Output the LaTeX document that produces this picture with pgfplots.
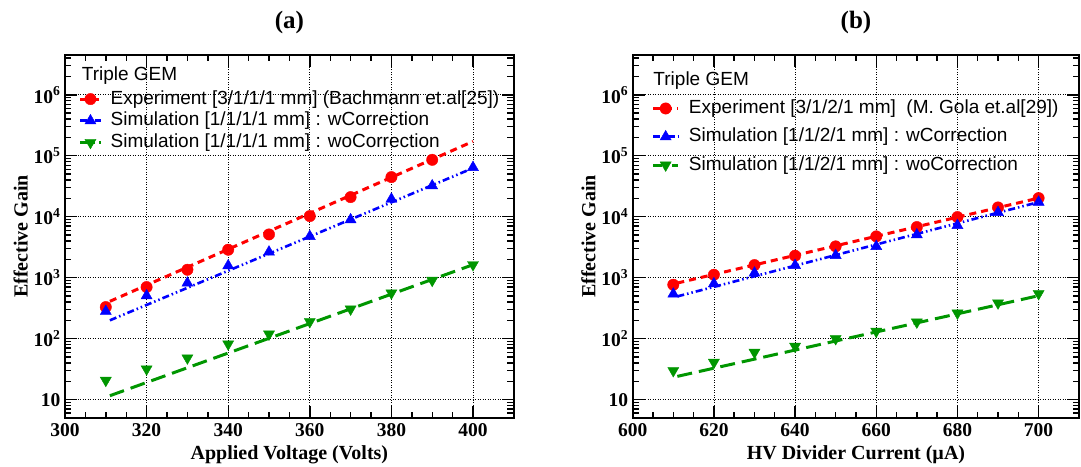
\documentclass[border=0pt]{standalone}
\usepackage{fontspec}
\setmainfont{Liberation Serif}
\newfontfamily\arial{Liberation Sans}
\usepackage{pgfplots}
\usepackage{pgfplotstable}
\pgfplotsset{compat=1.18}
\definecolor{rootred}{RGB}{255,0,0}
\definecolor{rootblue}{RGB}{0,0,255}
\definecolor{rootgreen}{RGB}{0,150,0}

\pgfplotstableread{
x y
310 330
320 703
330 1352
340 2877
350 5130
360 10250
370 21000
380 44700
390 85900
}\expA
\pgfplotstableread{
x y
310 281
320 507
330 818
340 1574
350 2640
360 4760
370 8940
380 19500
390 32200
400 64400
}\simwA
\pgfplotstableread{
x y
310 20.7
320 31.8
330 48.2
340 81.8
350 119
360 190
370 306
380 561
390 904
400 1634
}\simwoA
\pgfplotstableread{
x y
610 767
620 1119
630 1613
640 2296
650 3267
660 4763
670 6776
680 9886
690 14230
700 20230
}\expB
\pgfplotstableread{
x y
610 540
620 798
630 1193
640 1593
650 2325
660 3267
670 5070
680 7210
690 11780
700 17380
}\simwB
\pgfplotstableread{
x y
610 29.9
620 40.9
630 59.7
640 74.9
650 100
660 132
670 187
680 263
690 385
700 547
}\simwoB

\pgfplotsset{
 expM/.style={only marks, rootred, mark=*, mark size=5.7pt, mark options={solid, line width=0.4pt}},
 expL/.style={rootred, line width=3pt, dash pattern=on 7pt off 5pt, no marks},
 wM/.style={only marks, rootblue, mark=triangle*, mark size=6.4pt, mark options={solid, line width=0.4pt}},
 wL/.style={rootblue, line width=2.6pt, dash pattern=on 7pt off 3pt on 1.5pt off 3pt on 1.5pt off 3pt, no marks},
 woM/.style={only marks, rootgreen, mark=triangle*, mark size=6.4pt, mark options={solid, line width=0.4pt, rotate=180}},
 woL/.style={rootgreen, line width=3pt, dash pattern=on 15pt off 7pt, no marks},
 expLeg/.style={rootred, line width=3pt, dash pattern=on 7pt off 5pt, mark=*, mark size=5.7pt, mark options={solid, line width=0.4pt}},
 wLeg/.style={rootblue, line width=2.6pt, dash pattern=on 7pt off 3pt on 1.5pt off 3pt, mark=triangle*, mark size=6.4pt, mark options={solid, line width=0.4pt}},
 woLeg/.style={rootgreen, line width=3pt, dash pattern=on 9pt off 4pt on 2pt off 4pt, mark=triangle*, mark size=6.4pt, mark options={solid, line width=0.4pt, rotate=180}},
}

\begin{document}
\begin{tikzpicture}
\path[use as bounding box] (0pt,0pt) rectangle (1081pt,466pt);

\begin{axis}[ymode=log, at={(65pt,48pt)}, anchor=south west,
  scale only axis, width=448.8pt, height=363pt,
  ymin=5, ymax=4.5e6,
  ytick={10,100,1000,10000,100000,1000000},
  yticklabels={10,10\textsuperscript{2},10\textsuperscript{3},10\textsuperscript{4},10\textsuperscript{5},10\textsuperscript{6}},
  minor ytick={5,6,7,8,9,20,30,40,50,60,70,80,90,200,300,400,500,600,700,800,900,2000,3000,4000,5000,6000,7000,8000,9000,20000,30000,40000,50000,60000,70000,80000,90000,200000,300000,400000,500000,600000,700000,800000,900000,2000000,3000000,4000000},
  minor x tick num=3,
  tick align=inside, tick pos=both,
  major tick length=12pt, minor tick length=6.5pt,
  every tick/.style={black, line width=1.4pt},
  axis line style={line width=2pt},
  xmajorgrids, ymajorgrids,
  grid style={black, line width=0.7pt, dash pattern=on 1pt off 1.5pt},
  tick label style={font=\bfseries\fontsize{19.5}{19.5}\selectfont},
  xticklabel style={yshift=-2pt, /pgf/number format/assume math mode=true},
  yticklabel style={xshift=-1pt},
  label style={font=\bfseries\fontsize{20}{20}\selectfont},
  xlabel style={at={(axis description cs:0.5,-0.102)}, anchor=center},
  ylabel style={at={(axis description cs:-0.099,0.5)}, anchor=center},
  ylabel={Effective Gain},
  xmin=300, xmax=410, xtick={300,320,...,400},
  xlabel={Applied Voltage (Volts)},
  legend cell align=left,
  legend style={draw=none, fill=none, inner sep=0pt, anchor=north west,
    font=\arial\fontsize{19}{19}\selectfont,
    nodes={inner sep=0pt, text height=14pt, text depth=4pt},
    at={(rel axis cs:0.030,0.9039)}, row sep=3.7pt, column sep=8.4pt},
  legend image code/.code={\draw[mark repeat=2, mark phase=2, #1] plot coordinates {(0pt,0pt)(10.3pt,0pt)(20.6pt,0pt)};},
]
\addlegendimage{expLeg}
\addlegendentry{Experiment [3/1/1/1 mm] (Bachmann et.al[25])}
\addlegendimage{wLeg}
\addlegendentry{Simulation [1/1/1/1 mm] : wCorrection}
\addlegendimage{woLeg}
\addlegendentry{Simulation [1/1/1/1 mm] : woCorrection}
\addplot[expL, forget plot] coordinates {(311,410) (400,172000)};
\addplot[wL, forget plot] coordinates {(311,200) (400,62800)};
\addplot[woL, forget plot] coordinates {(311,11.6) (400,1634)};
\addplot[expM, forget plot] table {\expA};
\addplot[wM, forget plot] table {\simwA};
\addplot[woM, forget plot] table {\simwoA};
\node[anchor=base west, inner sep=0pt, font=\arial\fontsize{19}{19}\selectfont] at (axis description cs:0.0372,0.9309) {Triple GEM};
\end{axis}

\begin{axis}[ymode=log, at={(632.7pt,48pt)}, anchor=south west,
  scale only axis, width=446.5pt, height=363pt,
  ymin=5, ymax=4.5e6,
  ytick={10,100,1000,10000,100000,1000000},
  yticklabels={10,10\textsuperscript{2},10\textsuperscript{3},10\textsuperscript{4},10\textsuperscript{5},10\textsuperscript{6}},
  minor ytick={5,6,7,8,9,20,30,40,50,60,70,80,90,200,300,400,500,600,700,800,900,2000,3000,4000,5000,6000,7000,8000,9000,20000,30000,40000,50000,60000,70000,80000,90000,200000,300000,400000,500000,600000,700000,800000,900000,2000000,3000000,4000000},
  minor x tick num=3,
  tick align=inside, tick pos=both,
  major tick length=12pt, minor tick length=6.5pt,
  every tick/.style={black, line width=1.4pt},
  axis line style={line width=2pt},
  xmajorgrids, ymajorgrids,
  grid style={black, line width=0.7pt, dash pattern=on 1pt off 1.5pt},
  tick label style={font=\bfseries\fontsize{19.5}{19.5}\selectfont},
  xticklabel style={yshift=-2pt, /pgf/number format/assume math mode=true},
  yticklabel style={xshift=-1pt},
  label style={font=\bfseries\fontsize{20}{20}\selectfont},
  xlabel style={at={(axis description cs:0.5,-0.102)}, anchor=center},
  ylabel style={at={(axis description cs:-0.099,0.5)}, anchor=center},
  ylabel={Effective Gain},
  xmin=600, xmax=710, xtick={600,620,...,700},
  xlabel={HV Divider Current (µA)},
  legend cell align=left,
  legend style={draw=none, fill=none, inner sep=0pt, anchor=north west,
    font=\arial\fontsize{19}{19}\selectfont,
    nodes={inner sep=0pt, text height=14pt, text depth=4pt},
    at={(rel axis cs:0.042,0.878)}, row sep=10.3pt, column sep=9.3pt},
  legend image code/.code={\draw[mark repeat=2, mark phase=2, #1] plot coordinates {(0pt,0pt)(12.5pt,0pt)(25pt,0pt)};},
]
\addlegendimage{expLeg}
\addlegendentry{Experiment [3/1/2/1 mm]~ (M. Gola et.al[29])}
\addlegendimage{wLeg}
\addlegendentry{Simulation [1/1/2/1 mm] : wCorrection}
\addlegendimage{woLeg}
\addlegendentry{Simulation [1/1/2/1 mm] : woCorrection}
\addplot[expL, forget plot] coordinates {(611,818) (700,20230)};
\addplot[wL, forget plot] coordinates {(611,494) (700,17380)};
\addplot[woL, forget plot] coordinates {(611,24.1) (700,507)};
\addplot[expM, forget plot] table {\expB};
\addplot[wM, forget plot] table {\simwB};
\addplot[woM, forget plot] table {\simwoB};
\node[anchor=base west, inner sep=0pt, font=\arial\fontsize{19}{19}\selectfont] at (axis description cs:0.0461,0.917) {Triple GEM};
\end{axis}

\node[font=\bfseries\fontsize{25}{25}\selectfont] at (289.4pt,444pt) {(a)};
\node[font=\bfseries\fontsize{25}{25}\selectfont] at (856pt,444pt) {(b)};
\end{tikzpicture}
\end{document}
